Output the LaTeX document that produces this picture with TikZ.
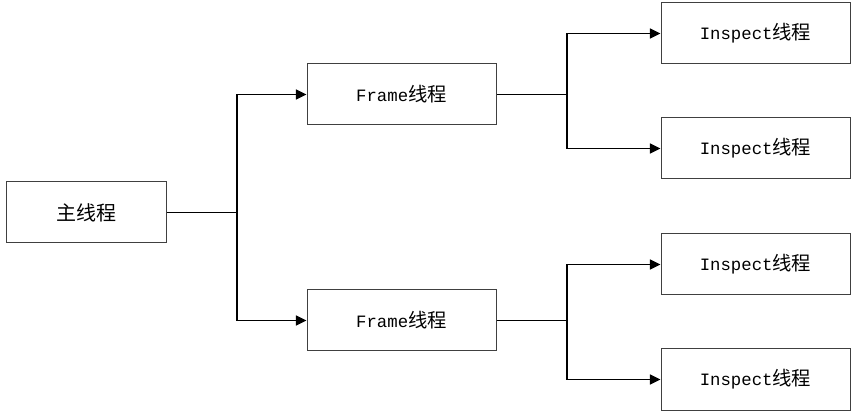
\documentclass[tikz,border=0pt]{standalone}
\usepackage{fontspec}
\setmonofont{Liberation Mono}
\newfontfamily\cjk{Noto Sans CJK SC}
\usetikzlibrary{arrows.meta}
\begin{document}
\begin{tikzpicture}[x=0.75pt,y=-0.75pt,
  box/.style={draw=black!75,line width=0.75pt,fill=white,minimum width=141.75pt,minimum height=45.75pt,inner sep=0pt,font=\fontsize{13}{15}\selectfont},
  mainbox/.style={box,minimum width=120pt},
  conn/.style={line width=1.2pt,black},
  arr/.style={conn,-{Triangle[length=8pt,width=7.5pt]}}]
\useasboundingbox (0,0) rectangle (857,420);
\newcommand{\lbl}[1]{\texttt{#1}{\cjk\fontsize{14.5}{16}\selectfont 线程}}
\node[mainbox] (m) at (86,212.5) {{\cjk\fontsize{15}{16}\selectfont 主线程}};
\node[box] (f1) at (401.5,94.5) {\lbl{Frame}};
\node[box] (f2) at (401.5,320.5) {\lbl{Frame}};
\node[box] (i1) at (755.5,33.5) {\lbl{Inspect}};
\node[box] (i2) at (755.5,148.5) {\lbl{Inspect}};
\node[box] (i3) at (755.5,264.5) {\lbl{Inspect}};
\node[box] (i4) at (755.5,379.5) {\lbl{Inspect}};
\coordinate (b0) at (237,212.5);
\coordinate (b1) at (567,94.5);
\coordinate (b2) at (567,320.5);
\draw[conn] (m.east) -- (b0);
\draw[arr] (b0) |- (f1.west);
\draw[arr] (b0) |- (f2.west);
\draw[conn] (f1.east) -- (b1);
\draw[arr] (b1) |- (i1.west);
\draw[arr] (b1) |- (i2.west);
\draw[conn] (f2.east) -- (b2);
\draw[arr] (b2) |- (i3.west);
\draw[arr] (b2) |- (i4.west);
\end{tikzpicture}
\end{document}
